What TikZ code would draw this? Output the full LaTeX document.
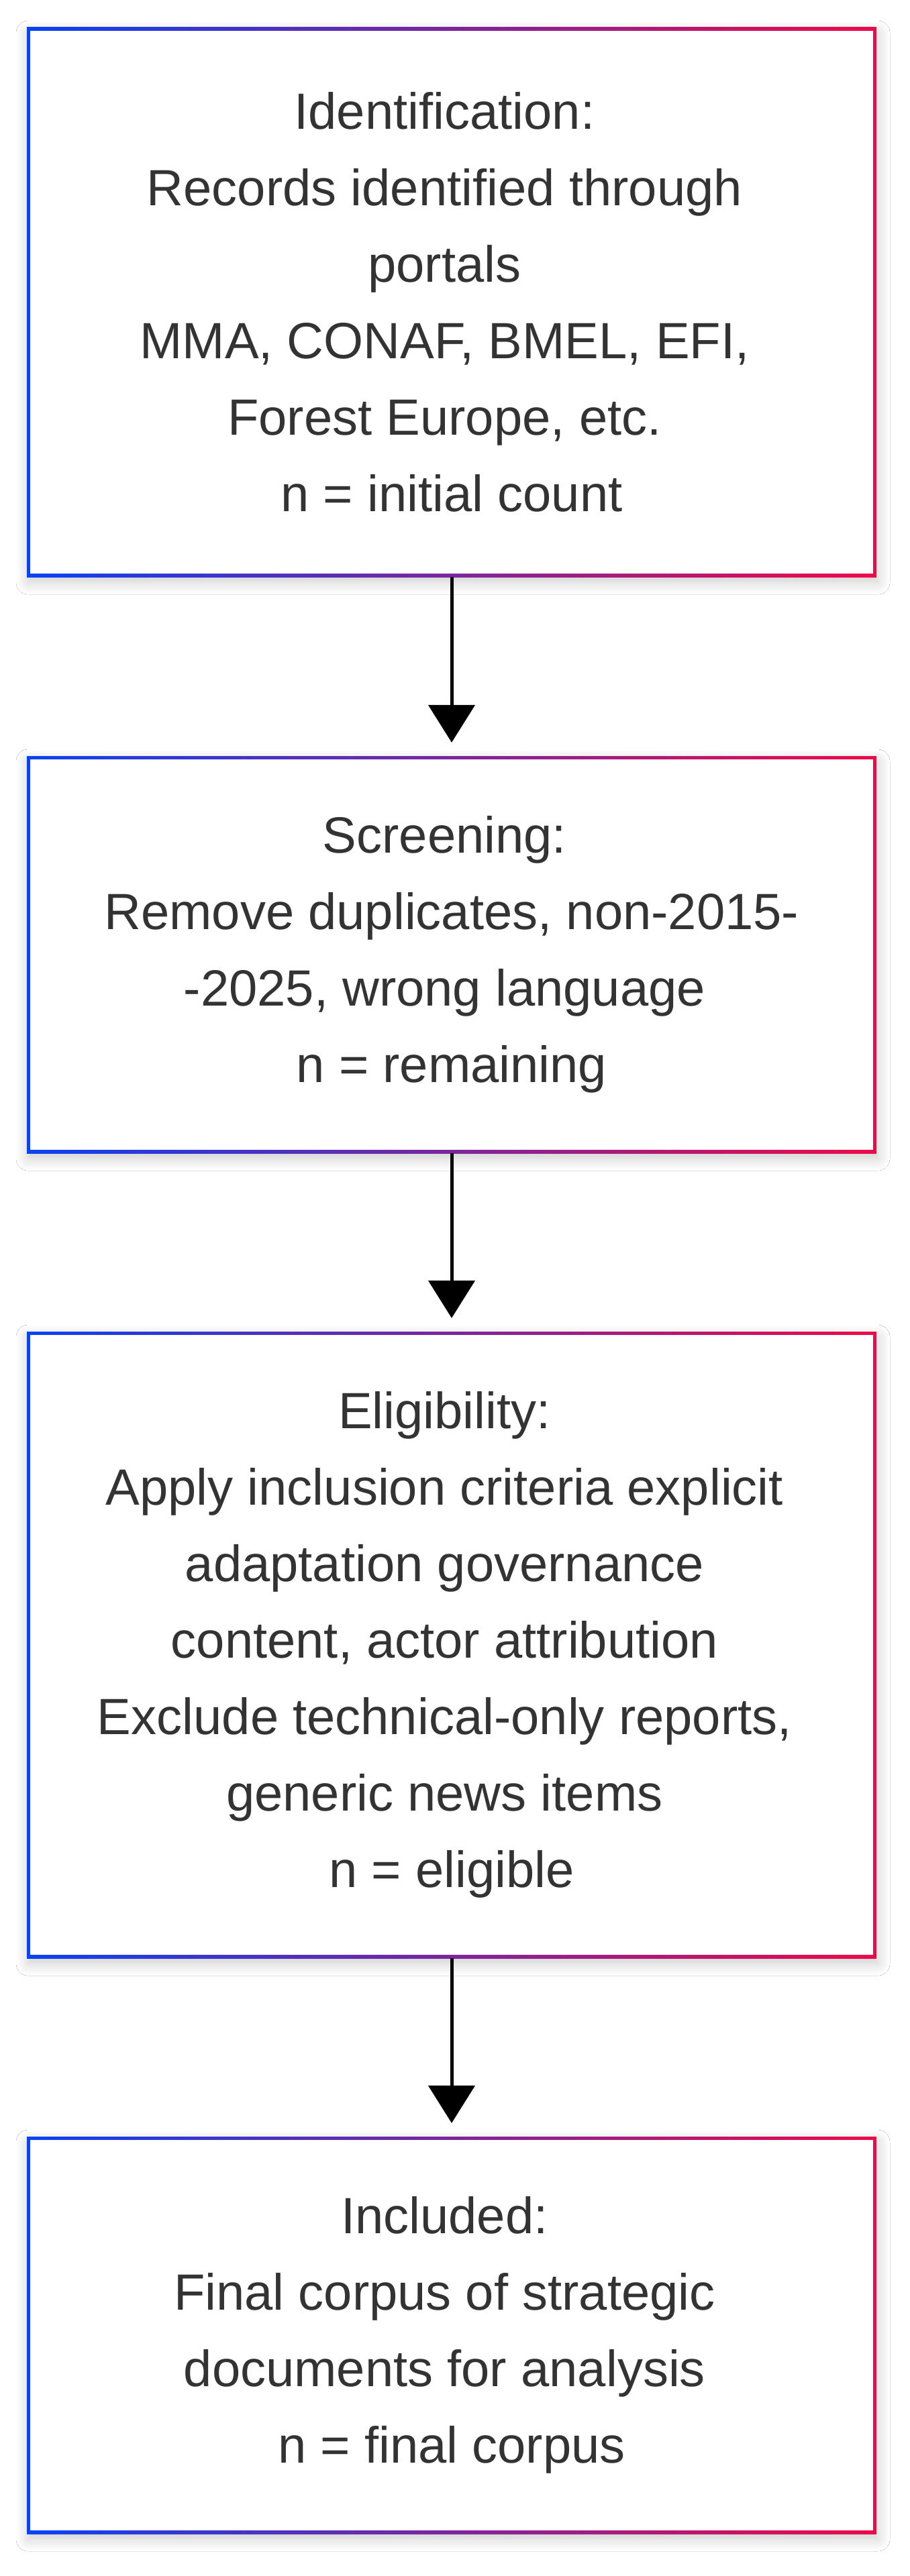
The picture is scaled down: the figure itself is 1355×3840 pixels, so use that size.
\documentclass[tikz,border=0pt]{standalone}
\usepackage{fontspec}
\setmainfont{Liberation Sans}
\usetikzlibrary{arrows.meta,shadows.blur}
\definecolor{gleft}{HTML}{0A42F2}
\definecolor{gright}{HTML}{EE0A48}
\definecolor{txt}{HTML}{333333}
\newcommand\tsp{\kern0.278em}
\tikzset{
  stage/.style={
    draw=none, left color=gleft, right color=gright,
    minimum width=1266pt, inner sep=0pt, align=center,
    text=txt, font=\fontsize{76}{114}\selectfont,
    blur shadow={shadow xshift=2pt, shadow yshift=-8pt, shadow blur radius=18pt, shadow opacity=20, shadow blur steps=12},
    path picture={\fill[white] ([shift={(5pt,5pt)}]path picture bounding box.south west) rectangle ([shift={(-5pt,-5pt)}]path picture bounding box.north east);}
  },
  flow/.style={line width=5pt, black, -{Triangle[length=56pt,width=69pt]}, shorten >=20pt}
}
\begin{document}
\begin{tikzpicture}[x=1pt,y=-1pt]
\useasboundingbox[fill=white] (0,0) rectangle (1355,3840);
\node[stage, minimum height=819pt] (b1) at (673,450.5)
  {Identification:\tsp\\Records identified through\tsp\\portals\tsp\\MMA, CONAF, BMEL, EFI,\tsp\\Forest Europe, etc.\tsp\\n = initial count};
\node[stage, minimum height=592pt] (b2) at (673,1423)
  {Screening:\tsp\\Remove duplicates, non-2015-\\-2025, wrong language\tsp\\n = remaining};
\node[stage, minimum height=934pt] (b3) at (673,2452)
  {Eligibility:\tsp\\Apply inclusion criteria explicit\tsp\\adaptation governance\tsp\\content, actor attribution\tsp\\Exclude technical-only reports,\tsp\\generic news items\tsp\\n = eligible};
\node[stage, minimum height=592pt] (b4) at (673,3481)
  {Included:\tsp\\Final corpus of strategic\tsp\\documents for analysis\tsp\\n = final corpus};
\draw[flow] (b1.south) -- (b2.north);
\draw[flow] (b2.south) -- (b3.north);
\draw[flow] (b3.south) -- (b4.north);
\end{tikzpicture}
\end{document}
